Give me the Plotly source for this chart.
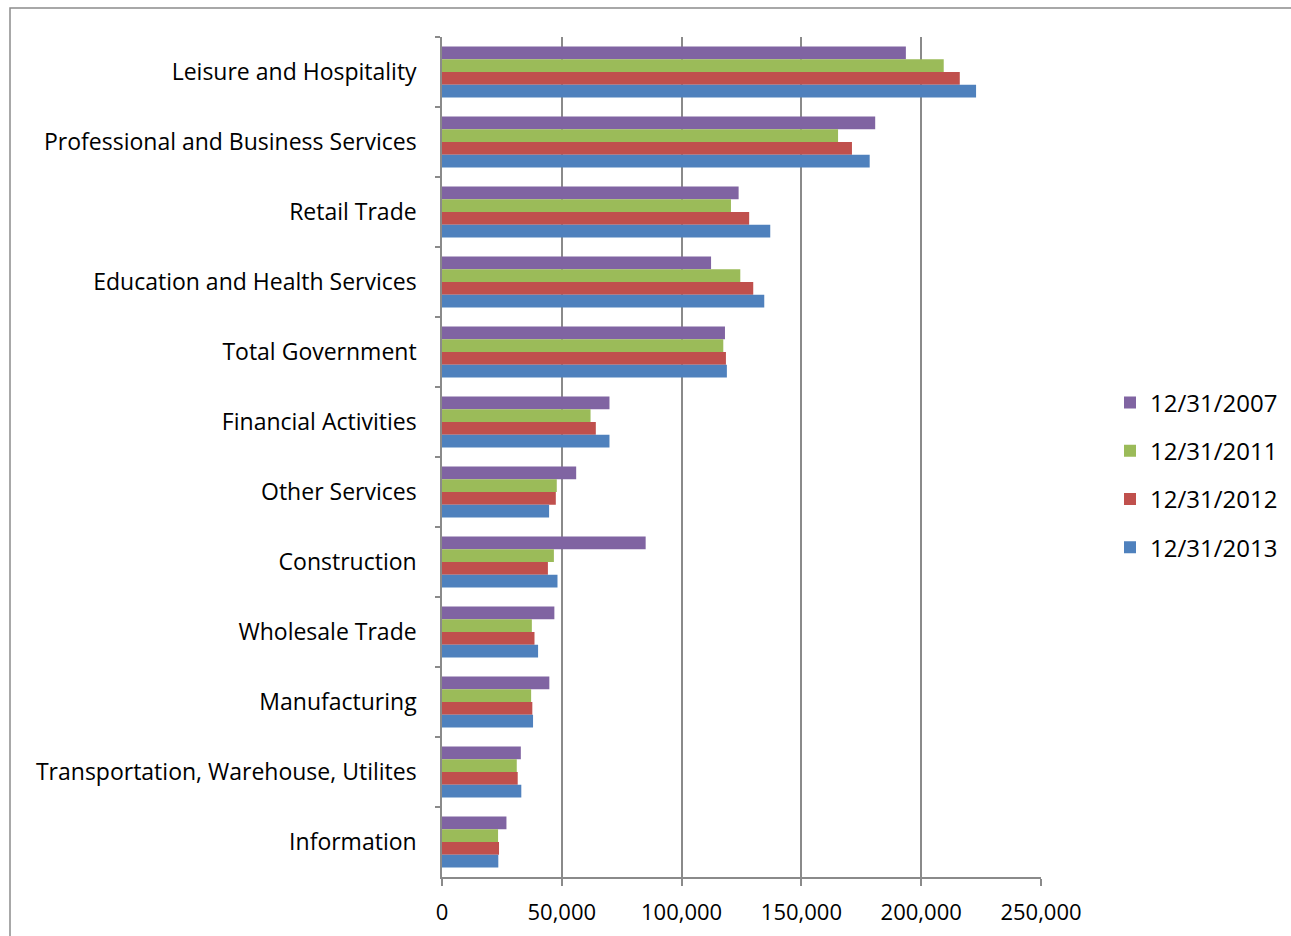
import plotly.graph_objects as go

categories = [
    "Leisure and Hospitality",
    "Professional and Business Services",
    "Retail Trade",
    "Education and Health Services",
    "Total Government",
    "Financial Activities",
    "Other Services",
    "Construction",
    "Wholesale Trade",
    "Manufacturing",
    "Transportation, Warehouse, Utilites",
    "Information",
]

series_names = ["12/31/2007", "12/31/2011", "12/31/2012", "12/31/2013"]

v2007 = [193600, 180800, 123800, 112300, 118100, 69900, 56000, 85000, 46900, 44800, 32900, 26900]
v2011 = [209400, 165300, 120600, 124500, 117400, 62000, 47900, 46700, 37500, 37200, 31200, 23400]
v2012 = [216100, 171100, 128200, 129900, 118500, 64200, 47500, 44200, 38600, 37700, 31600, 23800]
v2013 = [222900, 178500, 137000, 134500, 118900, 69900, 44700, 48200, 40100, 38000, 33100, 23500]

values = [v2007, v2011, v2012, v2013]
colors = ["#8064A2", "#9BBB59", "#C0504D", "#4F81BD"]

tick_vals = [0, 50000, 100000, 150000, 200000, 250000]
tick_text = ["0", "50,000", "100,000", "150,000", "200,000", "250,000"]

FONT = "Open Sans"
GRID = "#8a8a8a"

fig = go.Figure()
for name, vals, col in zip(series_names, values, colors):
    fig.add_trace(go.Bar(
        y=categories, x=vals, name=name, orientation="h",
        marker=dict(color=col, line=dict(width=0)),
        legendgroup=name,
    ))

W, H = 1291, 936
ml, mr, mt, mb = 442, 250, 37, 59
pw = W - ml - mr
ph = H - mt - mb

def px_x(x):
    return (x - ml) / pw

def px_y(y):
    return (H - mb - y) / ph

fig.update_layout(
    width=W, height=H,
    margin=dict(l=ml, r=mr, t=mt, b=mb, autoexpand=False),
    paper_bgcolor="white", plot_bgcolor="white",
    barmode="group", bargap=0.2727, bargroupgap=0,
    font=dict(family=FONT, size=22, color="black"),
    showlegend=True,
    legend=dict(
        x=px_x(1110), xanchor="left", y=px_y(475), yanchor="middle",
        traceorder="grouped", tracegroupgap=14,
        font=dict(family=FONT, size=24, color="black"),
        bgcolor="rgba(0,0,0,0)",
    ),
    xaxis=dict(
        range=[0, 250000], tickvals=tick_vals, ticktext=tick_text,
        showgrid=True, gridcolor=GRID, gridwidth=1.5,
        showline=True, linecolor=GRID, linewidth=1.5,
        ticks="outside", ticklen=7, tickcolor=GRID, tickwidth=1.5,
        ticklabelstandoff=8,
        zeroline=False, tickfont=dict(family=FONT, size=22),
    ),
    yaxis=dict(
        autorange="reversed", type="category",
        showgrid=False, showline=True, linecolor=GRID, linewidth=1.5,
        ticks="outside", ticklen=5, tickcolor=GRID, tickwidth=1.5,
        tickson="boundaries", ticklabelstandoff=19,
        tickfont=dict(family=FONT, size=23),
    ),
    shapes=[dict(
        type="rect", xref="paper", yref="paper",
        x0=px_x(10), x1=px_x(1300), y0=px_y(960), y1=px_y(8),
        line=dict(color="#8c8c8c", width=1.5), fillcolor="rgba(0,0,0,0)",
        layer="below",
    )],
)

fig.write_html("out.html")
